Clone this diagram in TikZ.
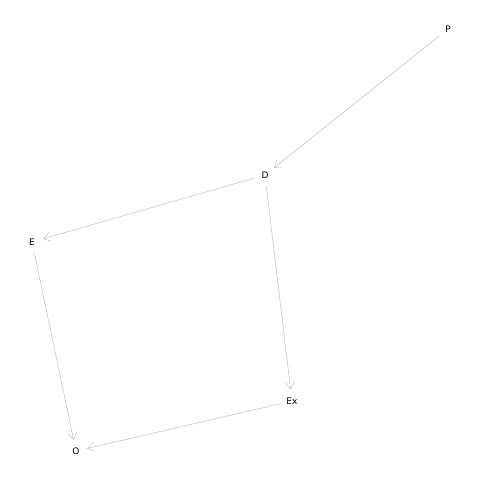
\documentclass[tikz,border=0pt]{standalone}
\usepackage{fontspec}
\setmainfont{DejaVu Sans}
\usetikzlibrary{arrows.meta}
\begin{document}
\begin{tikzpicture}[x=1pt,y=-1pt,
  vtx/.style={circle,inner sep=0pt,minimum size=22pt,font=\fontsize{9}{10}\selectfont},
  edge/.style={draw=black!22,line width=0.6pt,-{Straight Barb[length=7pt,width=9pt,line width=0.6pt]}}]
\useasboundingbox (0,0) rectangle (480,480);
\node[vtx] (P) at (448,29) {P};
\node[vtx] (D) at (265,175) {D};
\node[vtx] (E) at (32,242) {E};
\node[vtx] (Ex) at (292,401) {Ex};
\node[vtx] (O) at (76,451) {O};
\draw[edge] (P) -- (D);
\draw[edge] (D) -- (E);
\draw[edge] (D) -- (Ex);
\draw[edge] (E) -- (O);
\draw[edge] (Ex) -- (O);
\end{tikzpicture}
\end{document}
